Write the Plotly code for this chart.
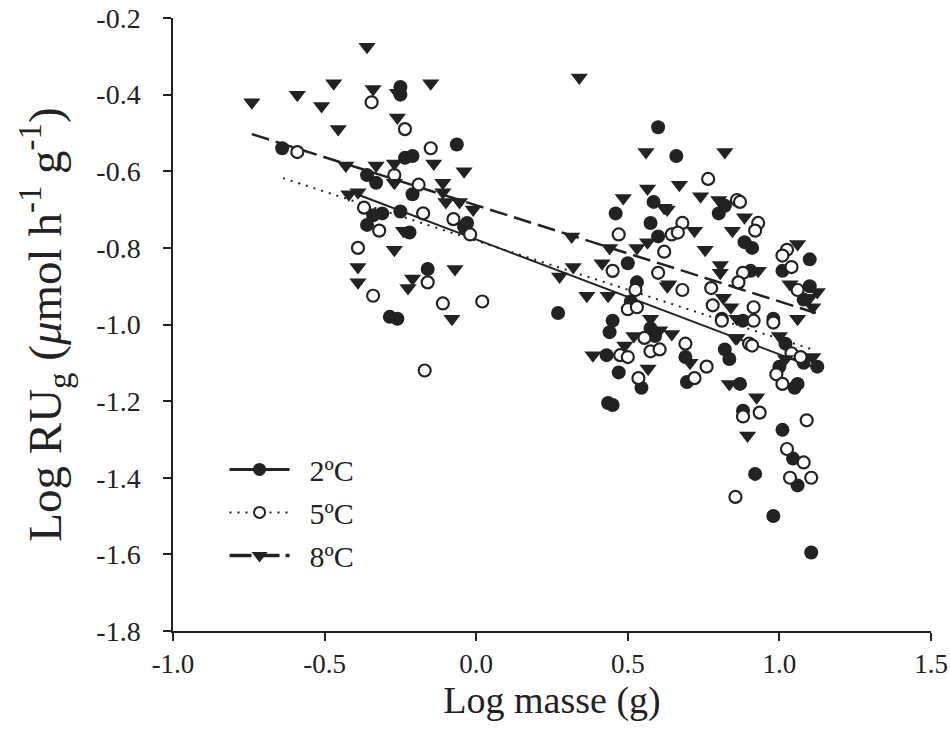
import plotly.graph_objects as go

# ---------------- data ----------------
# 2 °C (filled circles)
x2 = [-0.64, -0.25, -0.25, -0.064, -0.21, -0.235, -0.36, -0.33, -0.21, -0.31, -0.25, -0.03,
      -0.36, -0.22, -0.04, -0.16, -0.285, -0.26, -0.34,
      0.60, 0.585, 0.46, 0.575, 0.60, 0.50, 0.53, 0.51, 0.27, 0.45, 0.44, 0.575, 0.59, 0.43,
      0.47, 0.545, 0.435, 0.45, 0.66, 0.80, 0.82, 0.885, 0.91, 0.905, 1.01, 1.10, 1.10, 1.08,
      0.88, 0.98, 0.81, 1.02, 0.69, 0.695, 0.82, 0.835, 0.87, 0.88, 0.92, 1.01, 1.05, 1.06,
      1.045, 1.06, 0.98, 1.105, 1.125, 1.00, 1.08]
y2 = [-0.54, -0.38, -0.40, -0.53, -0.56, -0.565, -0.61, -0.63, -0.66, -0.71, -0.705, -0.735,
      -0.74, -0.76, -0.745, -0.855, -0.98, -0.985, -0.715,
      -0.485, -0.68, -0.71, -0.735, -0.77, -0.84, -0.89, -0.94, -0.97, -0.99, -1.02, -1.01, -1.03, -1.08,
      -1.125, -1.165, -1.205, -1.21, -0.56, -0.71, -0.69, -0.785, -0.80, -0.86, -0.86, -0.83, -0.90, -0.935,
      -0.99, -0.985, -0.985, -1.05, -1.085, -1.15, -1.065, -1.09, -1.155, -1.225, -1.39, -1.275, -1.165, -1.155,
      -1.35, -1.42, -1.50, -1.595, -1.11, -1.11, -1.10]

# 5 °C (open circles)
x5 = [-0.59, -0.345, -0.235, -0.15, -0.27, -0.19, -0.37, -0.175, -0.075, -0.32, -0.02, -0.39,
      -0.16, -0.34, -0.11, 0.02, -0.17,
      0.47, 0.62, 0.45, 0.60, 0.525, 0.50, 0.53, 0.555, 0.575, 0.605, 0.475, 0.50, 0.535,
      0.765, 0.86, 0.87, 0.93, 0.92, 0.68, 0.645, 0.665, 1.025, 1.01, 1.04, 0.88, 0.865,
      0.68, 0.775, 0.78, 0.915, 0.81, 0.915, 0.98, 0.90, 0.69, 0.76, 0.72, 0.91, 0.99,
      1.01, 0.935, 0.88, 0.855, 1.09, 1.025, 1.08, 1.035, 1.105, 1.04, 1.07, 1.06]
y5 = [-0.55, -0.42, -0.49, -0.54, -0.61, -0.635, -0.695, -0.71, -0.725, -0.755, -0.765, -0.80,
      -0.89, -0.925, -0.945, -0.94, -1.12,
      -0.765, -0.81, -0.86, -0.865, -0.91, -0.96, -0.955, -1.035, -1.07, -1.065, -1.08, -1.085, -1.14,
      -0.62, -0.675, -0.68, -0.735, -0.755, -0.735, -0.765, -0.76, -0.805, -0.82, -0.85, -0.865, -0.89,
      -0.91, -0.905, -0.95, -0.955, -0.99, -0.99, -0.995, -1.05, -1.05, -1.11, -1.14, -1.055, -1.13,
      -1.155, -1.23, -1.24, -1.45, -1.25, -1.325, -1.36, -1.40, -1.40, -1.075, -1.085, -0.91]

# 8 °C (filled down-triangles)
x8 = [-0.74, -0.59, -0.51, -0.36, -0.47, -0.15, -0.34, -0.26, -0.26, -0.455, -0.14, -0.27,
      -0.33, -0.43, -0.04, -0.27, -0.11, -0.11, -0.10, -0.42, -0.39, -0.055, -0.01, -0.24,
      -0.27, -0.39, -0.07, -0.39, -0.21, -0.225, -0.08,
      0.34, 0.56, 0.565, 0.62, 0.485, 0.315, 0.565, 0.44, 0.53, 0.32, 0.275, 0.415, 0.365,
      0.435, 0.63, 0.575, 0.52, 0.49, 0.385, 0.567, 0.82, 0.67, 0.74, 0.80, 0.63, 0.885,
      0.845, 0.72, 0.755, 0.805, 0.805, 0.93, 0.635, 0.815, 0.84, 0.86, 0.86, 0.605, 0.645,
      0.705, 0.855, 0.835, 0.925, 0.895, 1.06, 1.035, 1.125, 1.11, 1.06, 1.00, 1.11, 1.02, 1.10]
y8 = [-0.42, -0.40, -0.43, -0.275, -0.37, -0.37, -0.385, -0.395, -0.46, -0.49, -0.58, -0.58,
      -0.585, -0.585, -0.60, -0.63, -0.63, -0.655, -0.68, -0.66, -0.655, -0.68, -0.70, -0.755,
      -0.805, -0.85, -0.855, -0.89, -0.88, -0.905, -0.985,
      -0.355, -0.55, -0.645, -0.695, -0.67, -0.77, -0.785, -0.80, -0.80, -0.85, -0.875, -0.84, -0.925,
      -0.925, -0.90, -0.985, -1.03, -1.055, -1.08, -1.115, -0.55, -0.635, -0.665, -0.675, -0.70, -0.72,
      -0.755, -0.755, -0.805, -0.845, -0.865, -0.86, -0.895, -0.93, -0.955, -0.985, -1.035, -1.015, -1.025,
      -1.10, -1.035, -1.155, -1.19, -1.29, -0.79, -0.895, -0.915, -0.955, -0.985, -1.03, -1.085, -1.09, -0.93]

# fitted regression lines (end points)
fit2_x = [-0.40, 1.12]
fit2_y = [-0.658, -1.114]
fit5_x = [-0.637, 1.12]
fit5_y = [-0.618, -1.068]
fit8_x = [-0.74, 1.12]
fit8_y = [-0.503, -0.970]

labels = [" \u00a02ºC", " \u00a05ºC", " \u00a08ºC"]
x_ticks = [-1.0, -0.5, 0.0, 0.5, 1.0, 1.5]
y_ticks = [-1.8, -1.6, -1.4, -1.2, -1.0, -0.8, -0.6, -0.4, -0.2]

# ---------------- figure ----------------
INK = "#222222"
FONT = "Liberation Serif"

fig = go.Figure()

fig.add_trace(go.Scatter(x=fit2_x, y=fit2_y, mode="lines", showlegend=False,
                         line=dict(color=INK, width=2)))
fig.add_trace(go.Scatter(x=fit5_x, y=fit5_y, mode="lines", showlegend=False,
                         line=dict(color=INK, width=2, dash="2px,6px")))
fig.add_trace(go.Scatter(x=fit8_x, y=fit8_y, mode="lines", showlegend=False,
                         line=dict(color=INK, width=2.5, dash="18px,7px")))

fig.add_trace(go.Scatter(x=x2, y=y2, mode="markers", showlegend=False,
                         marker=dict(symbol="circle", size=14, color=INK,
                                     line=dict(color=INK, width=0))))
fig.add_trace(go.Scatter(x=x5, y=y5, mode="markers", showlegend=False,
                         marker=dict(symbol="circle", size=12, color="white",
                                     line=dict(color=INK, width=2.2))))
fig.add_trace(go.Scatter(x=x8, y=y8, mode="markers", showlegend=False,
                         marker=dict(symbol="triangle-down", size=15, color=INK,
                                     line=dict(color=INK, width=0))))

# legend-only entries
fig.add_trace(go.Scatter(x=[None], y=[None], mode="lines+markers", name=labels[0],
                         legendgroup="a",
                         line=dict(color=INK, width=3),
                         marker=dict(symbol="circle", size=13, color=INK)))
fig.add_trace(go.Scatter(x=[None], y=[None], mode="lines+markers", name=labels[1],
                         legendgroup="b",
                         line=dict(color=INK, width=2, dash="2px,6px"),
                         marker=dict(symbol="circle", size=11, color="white",
                                     line=dict(color=INK, width=2))))
fig.add_trace(go.Scatter(x=[None], y=[None], mode="lines+markers", name=labels[2],
                         legendgroup="c",
                         line=dict(color=INK, width=3.5, dash="22px,6px"),
                         marker=dict(symbol="triangle-down", size=14, color=INK)))

fig.update_layout(
    width=950, height=753,
    margin=dict(l=173, r=19, t=18, b=122),
    paper_bgcolor="white", plot_bgcolor="white",
    font=dict(family=FONT, color=INK, size=28),
    showlegend=True,
    legend=dict(x=0.068, y=0.306, xanchor="left", yanchor="top",
                bgcolor="rgba(0,0,0,0)", font=dict(family=FONT, size=30, color=INK),
                itemwidth=60, tracegroupgap=1),
    xaxis=dict(range=[-1.0, 1.5], tickvals=x_ticks,
               ticktext=[f"{v:.1f}" for v in x_ticks], automargin=False,
               ticklabeloverflow="allow",
               showgrid=False, zeroline=False, showline=True, linecolor=INK, linewidth=1.5,
               ticks="outside", ticklen=8, tickwidth=1.5, tickcolor=INK,
               tickfont=dict(family=FONT, size=27, color=INK),
               title=dict(text="Log masse (g)", font=dict(family=FONT, size=38, color=INK),
                          standoff=3)),
    yaxis=dict(range=[-1.8, -0.2], tickvals=y_ticks,
               ticktext=[f"{v:.1f}" for v in y_ticks], automargin=False,
               ticklabelstandoff=17, ticklabeloverflow="allow",
               showgrid=False, zeroline=False, showline=True, linecolor=INK, linewidth=1.5,
               ticks="outside", ticklen=8, tickwidth=1.5, tickcolor=INK,
               tickfont=dict(family=FONT, size=28, color=INK),
               title=dict(text="Log RU<sub>g</sub> (<i>μ</i>mol h<sup>-1</sup> g<sup>-1</sup>)",
                          font=dict(family=FONT, size=47, color=INK), standoff=20)),
)

# remove the default 8px page margin so the 950x753 figure fills the window exactly
fig.write_html("out.html",
               config={"displayModeBar": False},
               post_script="document.body.style.margin='0';document.body.style.overflow='hidden';")
